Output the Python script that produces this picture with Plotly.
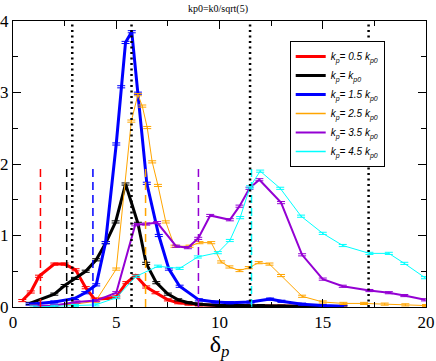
import plotly.graph_objects as go

# --- data ---
red_x = [0.45, 0.86, 1.26, 2.0, 2.5, 3.03, 3.52, 3.95, 4.5, 5.0, 5.49, 5.94, 6.45, 6.9, 7.5, 8.0, 8.5, 9.0, 10, 11, 12, 13, 14, 15, 16]
red_y = [0.09, 0.21, 0.43, 0.6, 0.6, 0.52, 0.27, 0.11, 0.12, 0.14, 0.34, 0.44, 0.28, 0.2, 0.1, 0.06, 0.04, 0.03, 0.02, 0.02, 0.02, 0.01, 0.01, 0.005, 0.0]

black_x = [0.81, 2.0, 2.5, 3.0, 3.52, 4.03, 4.5, 4.97, 5.45, 6.05, 6.45, 6.94, 7.5, 8.0, 8.5, 9, 10, 11, 12, 13, 14, 15, 16]
black_y = [0.05, 0.18, 0.3, 0.4, 0.5, 0.66, 0.9, 1.19, 1.72, 1.17, 0.61, 0.34, 0.18, 0.1, 0.06, 0.04, 0.02, 0.02, 0.02, 0.01, 0.01, 0.005, 0.0]

blue_x = [0.8, 2.0, 3.0, 3.5, 4.03, 4.48, 5.0, 5.24, 5.45, 5.75, 6.05, 6.48, 7.06, 7.55, 8.07, 9.0, 9.8, 10.5, 11.5, 12.45, 13, 14, 15, 16]
blue_y = [0.04, 0.07, 0.12, 0.2, 0.31, 0.9, 2.28, 3.08, 3.70, 3.85, 2.99, 1.73, 1.0, 0.53, 0.29, 0.1, 0.07, 0.06, 0.07, 0.11, 0.08, 0.04, 0.02, 0.01]

orange_x = [1.0, 2.0, 3.0, 4.0, 5.0, 5.73, 6.05, 6.26, 6.5, 6.74, 7.02, 7.4, 7.82, 8.55, 9.03, 9.6, 10.08, 10.48, 10.97, 11.42, 11.9, 12.42, 12.98, 14.0, 15.0, 16, 17, 18, 19, 20]
orange_y = [0.01, 0.02, 0.04, 0.08, 0.53, 2.6, 2.97, 2.81, 2.51, 2.03, 1.70, 1.19, 0.85, 0.85, 0.9, 0.9, 0.63, 0.56, 0.51, 0.55, 0.62, 0.6, 0.44, 0.15, 0.07, 0.05, 0.05, 0.04, 0.03, 0.02]

purple_x = [1.0, 2.0, 3.07, 4.03, 5.0, 5.92, 6.45, 6.98, 7.9, 8.47, 8.97, 9.55, 10.5, 10.97, 11.45, 11.93, 12.98, 14.0, 15.0, 15.97, 17.26, 18.2, 18.95, 19.95]
purple_y = [0.01, 0.02, 0.07, 0.09, 0.2, 1.15, 1.16, 1.18, 0.85, 0.83, 0.96, 1.28, 1.22, 1.41, 1.66, 1.78, 1.46, 0.73, 0.39, 0.29, 0.23, 0.2, 0.16, 0.1]

cyan_x = [1.0, 2.0, 3.0, 4.0, 5.0, 5.97, 7.02, 8.07, 8.95, 9.92, 10.5, 11.0, 11.48, 11.97, 12.94, 13.95, 15.0, 15.97, 17.26, 18.2, 18.95, 19.95]
cyan_y = [0.0, 0.01, 0.02, 0.03, 0.13, 0.43, 0.57, 0.54, 0.70, 0.76, 0.93, 1.25, 1.68, 1.9, 1.66, 1.27, 1.03, 0.86, 0.75, 0.75, 0.61, 0.41]

series_names = [
    "<i>k<sub>p</sub>= 0.5 k<sub>p0</sub></i>",
    "<i>k<sub>p</sub>= k<sub>p0</sub></i>",
    "<i>k<sub>p</sub>= 1.5 k<sub>p0</sub></i>",
    "<i>k<sub>p</sub>= 2.5 k<sub>p0</sub></i>",
    "<i>k<sub>p</sub>= 3.5 k<sub>p0</sub></i>",
    "<i>k<sub>p</sub>= 4.5 k<sub>p0</sub></i>",
]

# dashed markers (one per series) and the dotted reference lines
dashed_x = [1.33, 2.6, 3.87, 6.42, 8.98, 11.55]
dashed_top = 2.0
dotted_x = [2.87, 5.74, 11.48, 17.22]

colors = ["#ff0000", "#000000", "#0000ff", "#ffa500", "#9400d3", "#00ffff"]
widths = [3, 3, 3, 1, 2, 1]
xs = [red_x, black_x, blue_x, orange_x, purple_x, cyan_x]
ys = [red_y, black_y, blue_y, orange_y, purple_y, cyan_y]

fig = go.Figure()

for x, y, name, c, w in zip(xs, ys, series_names, colors, widths):
    fig.add_trace(go.Scatter(
        x=x, y=y, name=name, mode="lines", showlegend=False,
        line=dict(color=c, width=w),
        error_y=dict(type="constant", value=0.015, color=c, thickness=1, width=4),
    ))

# legend entries without the error-bar glyph
for name, c, w in zip(series_names, colors, widths):
    fig.add_trace(go.Scatter(
        x=[None], y=[None], name=name, mode="lines",
        line=dict(color=c, width=max(w, 1.5)),
    ))

for xv, c in zip(dashed_x, colors):
    fig.add_shape(type="line", xref="x", yref="y", x0=xv, x1=xv, y0=0, y1=dashed_top,
                  line=dict(color=c, width=1.5, dash="8px,5px"))

for xv in dotted_x:
    fig.add_shape(type="line", xref="x", yref="y", x0=xv, x1=xv, y0=0, y1=4,
                  line=dict(color="black", width=2.5, dash="2px,3.5px"))

axis_common = dict(
    showline=True, linecolor="black", linewidth=1, mirror="ticks",
    ticks="inside", ticklen=8, tickcolor="black", showgrid=False, zeroline=False,
    automargin=False,
    tickfont=dict(family="Liberation Serif", size=17, color="black"),
)

fig.update_layout(
    width=436, height=361,
    margin=dict(l=13, r=10, t=21, b=54),
    plot_bgcolor="white", paper_bgcolor="white",
    title=dict(text="kp0=k0/sqrt(5)", x=0.5, xanchor="center", y=0.985, yanchor="top",
               font=dict(family="Liberation Serif", size=10, color="black")),
    xaxis=dict(range=[0, 20], dtick=5, tick0=0,
               minor=dict(dtick=2.5, ticks="inside", ticklen=5, tickcolor="black"),
               title=dict(text="δ<sub><i>p</i></sub>", standoff=0,
                          font=dict(family="Liberation Serif", size=24, color="black")),
               **axis_common),
    yaxis=dict(range=[0, 4], dtick=1, tick0=0,
               minor=dict(dtick=0.5, ticks="inside", ticklen=5, tickcolor="black"),
               **axis_common),
    legend=dict(x=0.67, y=0.93, xanchor="left", yanchor="top",
                bgcolor="white", bordercolor="black", borderwidth=1,
                font=dict(family="Liberation Sans", size=10, color="black"),
                tracegroupgap=0, itemwidth=30),
    showlegend=True,
)

# the page's default 8px body margin would shift the whole figure
fig.write_html("out.html", config={"displayModeBar": False},
               post_script="document.body.style.margin='0';")
